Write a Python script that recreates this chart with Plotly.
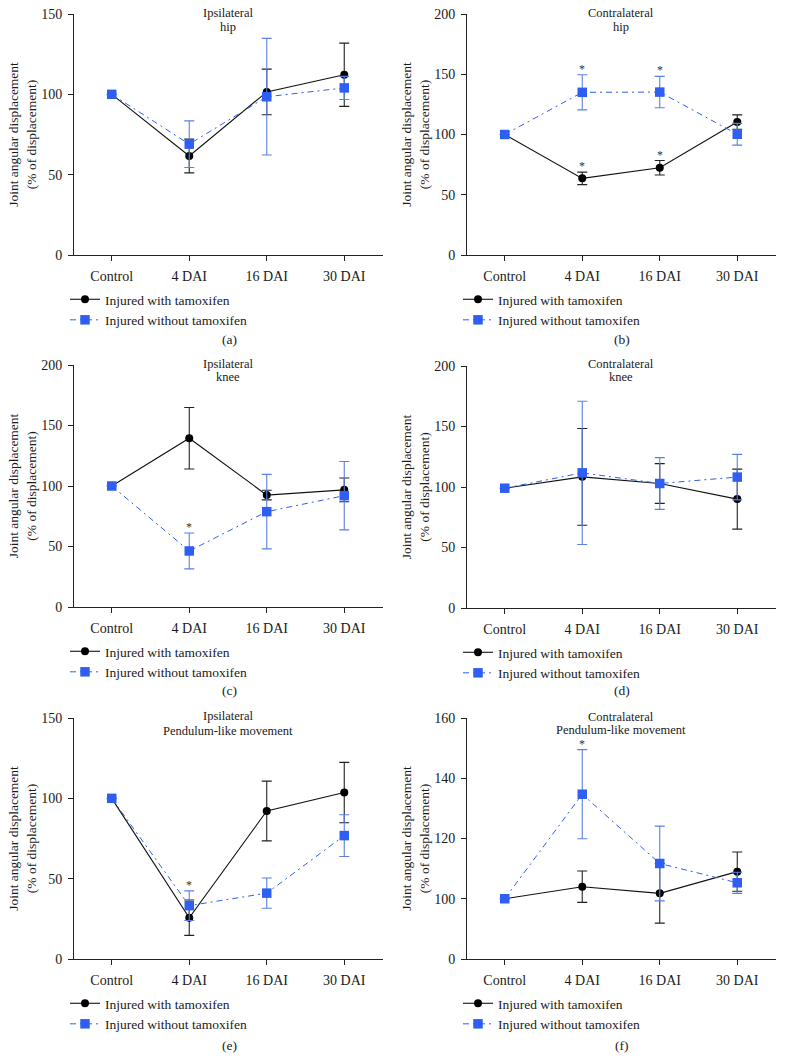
import plotly.graph_objects as go

categories = ["Control", "4 DAI", "16 DAI", "30 DAI"]
series_names = ["Injured with tamoxifen", "Injured without tamoxifen"]

# (a) Ipsilateral hip
a_tam = [100, 61.6, 101.5, 112.2]
a_tam_err = [0, 10.5, 14.2, 19.7]
a_no = [100, 69, 98.5, 104]
a_no_err = [0, 14.5, 36.3, 7.2]
# (b) Contralateral hip
b_tam = [100, 63.6, 72.4, 110.3]
b_tam_err = [0, 5.2, 6, 6]
b_no = [100, 135, 135.2, 100.2]
b_no_err = [0, 14.6, 13, 9]
# (c) Ipsilateral knee
c_tam = [100, 139.5, 92.5, 96.8]
c_tam_err = [0, 25.4, 4, 9.8]
c_no = [100, 46.3, 78.8, 92]
c_no_err = [0, 14.8, 30.8, 28.3]
# (d) Contralateral knee
d_tam = [99, 108.4, 102.9, 90]
d_tam_err = [0, 40, 16.4, 24.8]
d_no = [99, 111.7, 102.9, 108.2]
d_no_err = [0, 59.2, 21.4, 18.8]
# (e) Ipsilateral pendulum-like movement
e_tam = [100, 25.7, 92.1, 103.6]
e_tam_err = [0, 11, 18.6, 18.8]
e_no = [100, 33.2, 41, 76.8]
e_no_err = [0, 9.2, 9.4, 13]
# (f) Contralateral pendulum-like movement (broken axis: 0, 100..160)
f_tam = [100, 104, 101.8, 109]
f_tam_err = [0, 5.2, 9.9, 6.5]
f_no = [100, 134.7, 111.7, 105.3]
f_no_err = [0, 14.8, 12.4, 3.5]

title_line1 = ["Ipsilateral", "Contralateral", "Ipsilateral", "Contralateral",
               "Ipsilateral", "Contralateral"]
title_line2 = ["hip", "hip", "knee", "knee", "Pendulum-like movement",
               "Pendulum-like movement"]
captions = ["(a)", "(b)", "(c)", "(d)", "(e)", "(f)"]

y_ranges = [[0, 150], [0, 200], [0, 200], [0, 200], [0, 150], [80, 160]]
y_tickvals = [[0, 50, 100, 150], [0, 50, 100, 150, 200], [0, 50, 100, 150, 200],
              [0, 50, 100, 150, 200], [0, 50, 100, 150], [80, 100, 120, 140, 160]]
y_ticktext = [["0", "50", "100", "150"], ["0", "50", "100", "150", "200"],
              ["0", "50", "100", "150", "200"], ["0", "50", "100", "150", "200"],
              ["0", "50", "100", "150"], ["0", "100", "120", "140", "160"]]

# significance marks: (panel index, series 0=tam/1=no, category index)
sig_marks = [(1, 0, 1), (1, 0, 2), (1, 1, 1), (1, 1, 2), (2, 1, 1), (4, 1, 1), (5, 1, 1)]

panels = [(a_tam, a_tam_err, a_no, a_no_err), (b_tam, b_tam_err, b_no, b_no_err),
          (c_tam, c_tam_err, c_no, c_no_err), (d_tam, d_tam_err, d_no, d_no_err),
          (e_tam, e_tam_err, e_no, e_no_err), (f_tam, f_tam_err, f_no, f_no_err)]

W, H = 785, 1059


def px(xp):
    return xp / W


def py(yp):
    return 1 - yp / H


FONT = "Liberation Serif"
TXT = "#1a1a1a"
BLUE = "#2f5ff2"
BLUE_ERR = "#5a80e2"

# window-pixel geometry: (left, right, top, bottom, title1_y, title2_y, caption_y)
boxes = [(73, 383, 14, 255, 13, 27, 340), (466, 776, 14, 255, 13, 27, 340),
         (73, 383, 365, 607, 364, 377, 690), (466, 776, 366, 608, 364, 377, 690),
         (73, 383, 718, 959, 716, 731, 1045), (466, 776, 718, 959, 717, 730, 1045)]
EXT = 5  # x-axis line extends past the y-axis

fig = go.Figure()
annotations = []
layout = {}

for i, (tam, tam_err, no, no_err) in enumerate(panels):
    n = i + 1
    xa = "x" if n == 1 else f"x{n}"
    ya = "y" if n == 1 else f"y{n}"
    lg = "legend" if n == 1 else f"legend{n}"
    fig.add_trace(go.Scatter(
        x=categories, y=tam, xaxis=xa, yaxis=ya, legend=lg, name=series_names[0],
        mode="lines+markers",
        line=dict(color="#111111", width=1.1),
        marker=dict(symbol="circle", size=8, color="#000000"),
        error_y=dict(type="data", array=tam_err, visible=True, color="#222222",
                     thickness=1.1, width=5),
    ))
    fig.add_trace(go.Scatter(
        x=categories, y=no, xaxis=xa, yaxis=ya, legend=lg, name=series_names[1],
        mode="lines+markers",
        line=dict(color=BLUE, width=1, dash="6px,4px,2px,4px"),
        marker=dict(symbol="square", size=9.5, color=BLUE),
        error_y=dict(type="data", array=no_err, visible=True, color=BLUE_ERR,
                     thickness=1.1, width=5),
    ))
    l, r, t, b, t1, t2, cy = boxes[i]
    unit = (r - l) / 4.0
    axis_common = dict(showgrid=False, zeroline=False, showline=True,
                       linecolor="#222222", linewidth=1, ticks="outside",
                       ticklen=5, tickcolor="#222222", ticklabelstandoff=3,
                       tickfont=dict(family=FONT, size=14, color=TXT))
    layout["xaxis" if n == 1 else f"xaxis{n}"] = dict(
        domain=[px(l - EXT), px(r)], anchor=ya, range=[-0.5 - EXT / unit, 3.5],
        type="category", fixedrange=True, **axis_common)
    layout["yaxis" if n == 1 else f"yaxis{n}"] = dict(
        domain=[py(b), py(t)], anchor="free", position=px(l), range=y_ranges[i],
        tickvals=y_tickvals[i], ticktext=y_ticktext[i], fixedrange=True,
        title=dict(text="Joint angular displacement<br>(% of displacement)",
                   font=dict(family=FONT, size=13.5, color=TXT), standoff=0),
        **axis_common)
    layout[lg] = dict(
        x=px(l - 8), y=py(b + 29), xanchor="left", yanchor="top",
        bgcolor="rgba(0,0,0,0)", font=dict(family=FONT, size=13.5, color=TXT),
        itemwidth=30, tracegroupgap=0,
    )
    cx = (l + r) / 2
    for txt, yy in ((title_line1[i], t1), (title_line2[i], t2)):
        annotations.append(dict(text=txt, xref="paper", yref="paper",
                                x=px(cx), y=py(yy), xanchor="center",
                                yanchor="middle", showarrow=False,
                                font=dict(family=FONT, size=12.5, color=TXT)))
    annotations.append(dict(text=captions[i], xref="paper", yref="paper",
                            x=px(cx + 1), y=py(cy), xanchor="center",
                            yanchor="middle", showarrow=False,
                            font=dict(family=FONT, size=13.5, color=TXT)))

for (pi, si, ci) in sig_marks:
    tam, tam_err, no, no_err = panels[pi]
    vals, errs = (tam, tam_err) if si == 0 else (no, no_err)
    n = pi + 1
    annotations.append(dict(
        text="*", x=categories[ci], y=vals[ci] + errs[ci],
        xref="x" if n == 1 else f"x{n}", yref="y" if n == 1 else f"y{n}",
        xanchor="center", yanchor="bottom", yshift=-3, showarrow=False,
        font=dict(family=FONT, size=12, color="#333333")))

fig.update_layout(
    width=W, height=H, margin=dict(l=0, r=0, t=0, b=0, autoexpand=False),
    paper_bgcolor="white", plot_bgcolor="white",
    showlegend=True, annotations=annotations, **layout)

# remove the browser's default 8px body margin so the figure fills the window
fig.write_html("out.html", config={"displayModeBar": False},
               post_script="document.body.style.margin='0px';"
                           "document.body.style.overflow='hidden';")
